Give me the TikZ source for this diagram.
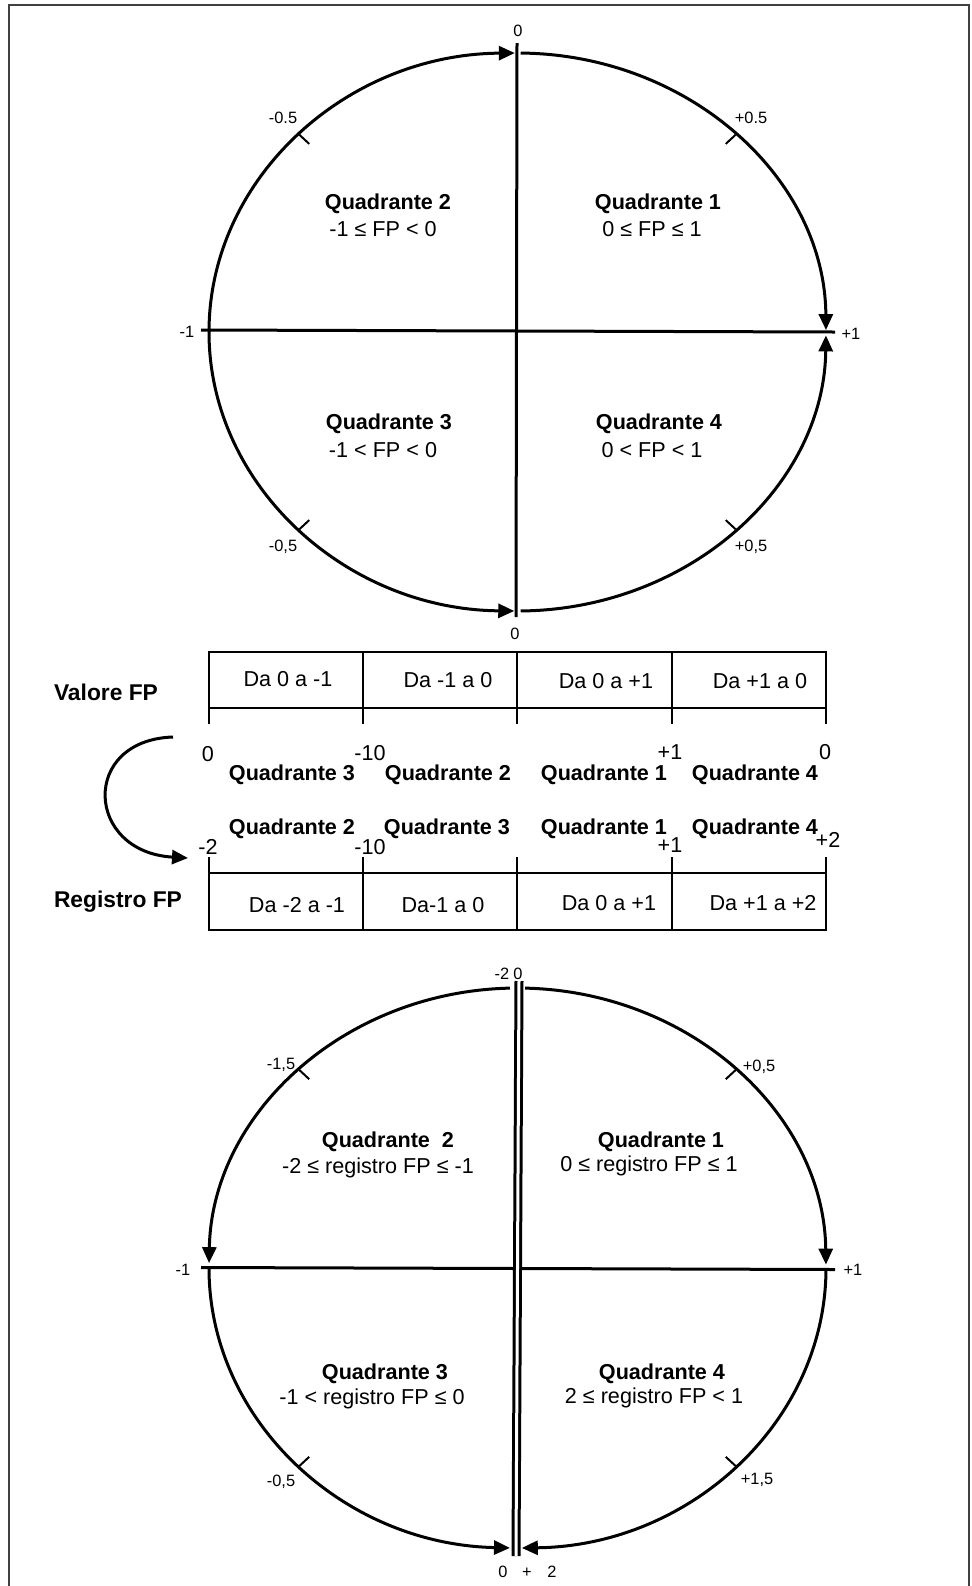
\documentclass[tikz,border=0pt]{standalone}
\usepackage{fontspec}
\setmainfont{Liberation Sans}
\usetikzlibrary{arrows.meta,calc}
\tikzset{
  frame/.style={draw=black!75, line width=1.2pt},
  ring/.style={line width=1.5pt},
  ringarrow/.style={line width=1.5pt, -{Triangle[length=8pt,width=7pt]}},
  axis/.style={line width=1.5pt},
  tickmark/.style={line width=1pt},
  cell/.style={line width=1.4pt, line cap=rect},
  txt/.style={inner sep=0pt, text height=.72em, text depth=0pt},
  quad/.style={txt, font=\fontsize{10.8}{13}\selectfont\bfseries},
  cond/.style={txt, font=\fontsize{10.8}{13}\selectfont},
  ticklabel/.style={txt, font=\fontsize{8.2}{10}\selectfont},
  rowlabel/.style={txt, font=\fontsize{11.4}{14}\selectfont\bfseries},
}

\begin{document}
\begin{tikzpicture}[x=0.5pt, y=-0.5pt]
  \useasboundingbox (0,0) rectangle (971,1586);
  \draw[frame] (9,1586) -- (9,5) -- (969,5) -- (969,1586);

  % upper circle: valore FP
  \coordinate (c1) at (517.5,332);
  \foreach \s/\e in {180/269.5, 270.6/359.6, 89.4/0.7, 180/90.6}
    \draw[ringarrow] ($(c1)+(\s:308.5 and 279)$)
      arc[start angle=\s, end angle=\e, x radius=308.5, y radius=279];
  \foreach \a in {45,135,225,315}
    \draw[tickmark] ($(c1)+(\a:308.5 and 279)$) -- ($(c1)+(\a:294.5 and 266)$);
  \coordinate (l1) at (201,330);
  \coordinate (r1) at (835,332);
  \coordinate (t1) at (517,43);
  \coordinate (b1) at (516,617);
  \draw[axis] (l1) -- (r1);
  \draw[axis] (t1) -- (b1);

  \node[ticklabel] (v0top) at (518,29)  {0};
  \node[ticklabel] (v0bot) at (515,632) {0};
  \node[ticklabel] (vm1)   at (187,330) {-1};
  \node[ticklabel] (vp1)   at (851,332) {+1};
  \node[ticklabel] (vul)   at (283,116) {-0.5};
  \node[ticklabel] (vur)   at (751,116) {+0.5};
  \node[ticklabel] (vll)   at (283,544) {-0,5};
  \node[ticklabel] (vlr)   at (751,544) {+0,5};

  \node[quad] (vq2) at (388,202) {Quadrante 2};
  \node[cond] (vc2) at (383,229) {-1 ≤ FP < 0};
  \node[quad] (vq1) at (658,202) {Quadrante 1};
  \node[cond] (vc1) at (652,229) {0 ≤ FP ≤ 1};
  \node[quad] (vq3) at (389,422) {Quadrante 3};
  \node[cond] (vc3) at (383,450) {-1 < FP < 0};
  \node[quad] (vq4) at (659,422) {Quadrante 4};
  \node[cond] (vc4) at (652,450) {0 < FP < 1};

  % tables
  \foreach \y in {652,708}
    \draw[cell] (209,\y) -- (826,\y);
  \foreach \x in {209,363,517,672,826}
    \draw[cell] (\x,652) -- (\x,723);
  \foreach \y in {873,930}
    \draw[cell] (209,\y) -- (826,\y);
  \foreach \x in {209,363,517,672,826}
    \draw[cell] (\x,858) -- (\x,930);

  \node[rowlabel] (valore)   at (106,693) {Valore FP};
  \node[rowlabel] (registro) at (118,900) {Registro FP};

  \node[cond] (va) at (288,679) {Da 0 a -1};
  \node[cond] (vb) at (448,680) {Da -1 a 0};
  \node[cond] (vc) at (606,681) {Da 0 a +1};
  \node[cond] (vd) at (760,681) {Da +1 a 0};
  \node[cond] (ra) at (297,905) {Da -2 a -1};
  \node[cond] (rb) at (443,905) {Da-1 a 0};
  \node[cond] (rc) at (609,903) {Da 0 a +1};
  \node[cond] (rd) at (763,903) {Da +1 a +2};

  \node[cond] (n1) at (208,754) {0};
  \node[cond] (n2) at (370,753) {-10};
  \node[cond] (n3) at (670,752) {+1};
  \node[cond] (n4) at (825,752) {0};
  \node[quad] (m3) at (292,773) {Quadrante 3};
  \node[quad] (m2) at (448,773) {Quadrante 2};
  \node[quad] (m1) at (604,773) {Quadrante 1};
  \node[quad] (m4) at (755,773) {Quadrante 4};
  \node[quad] (k2) at (292,827) {Quadrante 2};
  \node[quad] (k3) at (447,827) {Quadrante 3};
  \node[quad] (k1) at (604,827) {Quadrante 1};
  \node[quad] (k4) at (755,827) {Quadrante 4};
  \node[cond] (p1) at (208,847) {-2};
  \node[cond] (p2) at (370,847) {-10};
  \node[cond] (p3) at (670,845) {+1};
  \node[cond] (p4) at (828,840) {+2};

  \coordinate (bendfrom) at (173,737);
  \coordinate (bendto)   at (188,858);
  \draw[ringarrow] (bendfrom) .. controls (80,740) and (85,852) .. (bendto);

  % lower circle: registro FP
  \coordinate (c2) at (517.5,1268);
  \foreach \s/\e in {268.6/181, 271.4/359.3, 0/89.2, 180/91.4}
    \draw[ringarrow] ($(c2)+(\s:308.5 and 280)$)
      arc[start angle=\s, end angle=\e, x radius=308.5, y radius=280];
  \foreach \a in {45,135,225,315}
    \draw[tickmark] ($(c2)+(\a:308.5 and 280)$) -- ($(c2)+(\a:294.5 and 267)$);
  \coordinate (l2) at (201,1267.5);
  \coordinate (r2) at (835,1269.5);
  \coordinate (t2) at (519,981);
  \coordinate (b2) at (516,1556);
  \draw[axis] (l2) -- (r2);
  \draw[line width=1.5pt, double, double distance=1.5pt] (t2) -- (b2);

  \node[ticklabel] (rm2)  at (502,972)  {-2};
  \node[ticklabel] (rz)   at (518,972)  {0};
  \node[ticklabel] (rb0)  at (503,1570) {0};
  \node[ticklabel] (rbp)  at (527,1570) {+};
  \node[ticklabel] (rb2)  at (552,1570) {2};
  \node[ticklabel] (rm1)  at (183,1268) {-1};
  \node[ticklabel] (rp1)  at (853,1268) {+1};
  \node[ticklabel] (rul)  at (281,1062) {-1,5};
  \node[ticklabel] (rur)  at (759,1064) {+0,5};
  \node[ticklabel] (rll)  at (281,1479) {-0,5};
  \node[ticklabel] (rlr)  at (757,1477) {+1,5};

  \node[quad] (rq2) at (388,1140) {Quadrante \ 2};
  \node[cond] (rc2) at (378,1166) {-2 ≤ registro FP ≤ -1};
  \node[quad] (rq1) at (661,1140) {Quadrante 1};
  \node[cond] (rc1) at (649,1164) {0 ≤ registro FP ≤ 1};
  \node[quad] (rq3) at (385,1372) {Quadrante 3};
  \node[cond] (rc3) at (372,1397) {-1 < registro FP ≤ 0};
  \node[quad] (rq4) at (662,1372) {Quadrante 4};
  \node[cond] (rc4) at (654,1396) {2 ≤ registro FP < 1};
\end{tikzpicture}
\end{document}
